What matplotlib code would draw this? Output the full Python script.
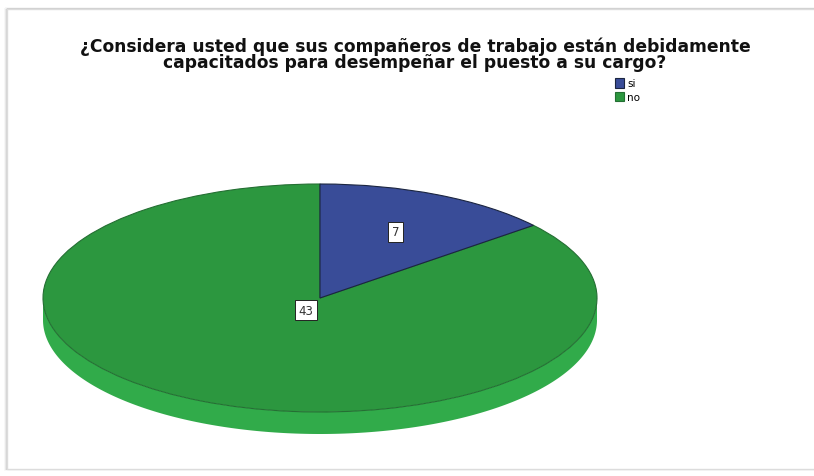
import numpy as np
import matplotlib
matplotlib.use("Agg")
import matplotlib.pyplot as plt
from matplotlib.patches import Rectangle

# Survey answers
categories = ["si", "no"]
counts = [7, 43]
title = ("¿Considera usted que sus compañeros de trabajo están debidamente\n"
         "capacitados para desempeñar el puesto a su cargo?")

top_colors = ["#394C98", "#2C973F"]
edge_colors = ["#1b2540", "#246f33"]
side_colors = ["#2E3F82", "#31AB4A"]
label_dist = [0.64, 0.12]

W, H = 814, 477
plt.rcParams["font.family"] = ["DejaVu Sans"]
fig = plt.figure(figsize=(W / 100, H / 100), dpi=100)

# Background frame in pixel coordinates
bg = fig.add_axes([0, 0, 1, 1])
bg.set_xlim(0, W)
bg.set_ylim(H, 0)
bg.axis("off")
for i, a in enumerate([0.12, 0.07, 0.04]):
    bg.add_patch(Rectangle((7 - i, 10 - 0.3 * i), W, 460 + 0.6 * i, fill=False,
                           edgecolor="black", alpha=a, lw=1.2))
bg.add_patch(Rectangle((7, 10), W, 460, facecolor="white",
                       edgecolor="#dcdcdc", lw=1.0))

fig.text(0.5 + 8 / W, 1 - 55 / H, title, ha="center", va="center",
         fontsize=12.3, fontweight="bold", linespacing=0.84, color="#111111")

# Pie drawn as a tilted disc: top ellipse plus front side band
cx0, cx1 = 43, 597
cy_top, cy_bot = 185, 435
ry_px = 114
depth = (cy_bot - cy_top) / ry_px - 2.0
ax = fig.add_axes([cx0 / W, 1 - cy_bot / H, (cx1 - cx0) / W, (cy_bot - cy_top) / H])

total = sum(counts)
fracs = np.array(counts) / total
starts = 90 - 360 * np.concatenate([[0], np.cumsum(fracs)[:-1]])
ends = starts - 360 * fracs

# Side band: the part of each wedge lying in the front half of the disc
for a0, a1, col in zip(starts, ends, side_colors):
    lo, hi = min(a0, a1), max(a0, a1)
    for shift in (0, -360, 360):
        s, e = max(lo + shift, -180), min(hi + shift, 0)
        if e > s:
            t = np.radians(np.linspace(s, e, 200))
            xs = np.concatenate([np.cos(t), np.cos(t[::-1])])
            ys = np.concatenate([np.sin(t), np.sin(t[::-1]) - depth])
            ax.fill(xs, ys, color=col, lw=0)

wedges, _ = ax.pie(counts, colors=top_colors, startangle=90, counterclock=False,
                   wedgeprops=dict(linewidth=0.8))
for w, ec, z in zip(wedges, edge_colors, [3, 2]):
    w.set_edgecolor(ec)
    w.set_zorder(z)
ax.set_aspect("auto")
ax.set_xlim(-1, 1)
ax.set_ylim(-1 - depth, 1)
ax.axis("off")

for a0, a1, n, d in zip(starts, ends, counts, label_dist):
    mid = np.radians((a0 + a1) / 2)
    ax.text(d * np.cos(mid), d * np.sin(mid), str(n), ha="center", va="center",
            fontsize=8.5, color="#333333", zorder=5,
            bbox=dict(boxstyle="square,pad=0.3", fc="white", ec="#222222", lw=0.7))

fig.legend(wedges, categories, loc="upper left",
           bbox_to_anchor=(615 / W, 1 - 79 / H), frameon=False,
           fontsize=7.5, handlelength=0.85, handleheight=1.05, handletextpad=0.3,
           labelspacing=0.3, borderaxespad=0, borderpad=0)

fig.savefig("out.png", dpi=100)
